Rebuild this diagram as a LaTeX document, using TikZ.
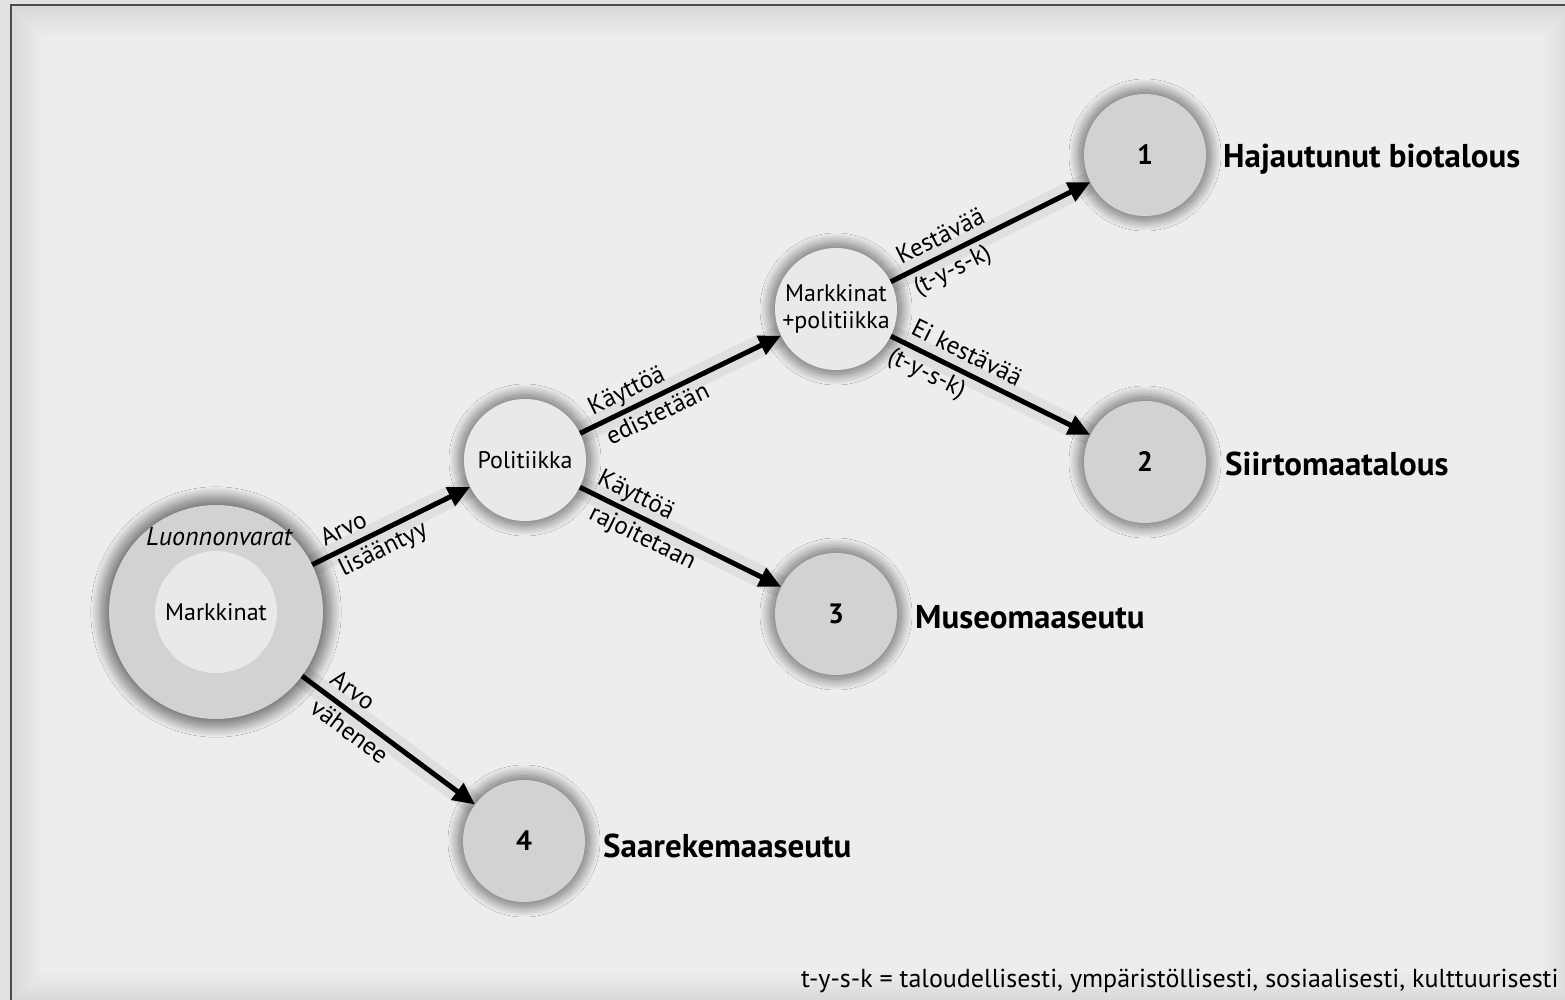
\documentclass[tikz,border=0pt]{standalone}
\usepackage{fontspec}
\setmainfont{PT Sans}
\usetikzlibrary{arrows.meta,shadows.blur}
\definecolor{cLight}{HTML}{E9E9E9}
\definecolor{cDark}{HTML}{D2D2D2}
\definecolor{cOut}{HTML}{E2E2E2}
\begin{document}
\begin{tikzpicture}[x=1pt,y=-1pt,
  glowshadow/.style={blur shadow={shadow xshift=0pt,shadow yshift=0pt,shadow blur radius=10pt,shadow blur steps=30,shadow scale=1.07,shadow opacity=55}},
  circbase/.style={circle, minimum size=122pt, inner sep=0pt, align=center, font=\fontsize{24}{27}\selectfont},
  lightc/.style={circbase, fill=cLight, glowshadow},
  darkc/.style={circbase, fill=cDark, glowshadow, font=\bfseries\fontsize{28}{30}\selectfont},
  lab/.style={anchor=base west, inner sep=1pt, font=\bfseries\fontsize{33}{35}\selectfont},
  arr/.style={line width=5pt, -{Triangle[length=22pt,width=20pt]},
    preaction={draw=black, draw opacity=0.06, line width=22pt, arrows=-}},
  el/.style={sloped, font=\fontsize{25}{27}\selectfont, inner sep=4pt, text height=18pt, text depth=4pt}
]
\useasboundingbox (0,0) rectangle (1565,1000);
\clip (0,0) rectangle (1565,1000);
% background
\fill[cOut] (0,0) rectangle (1565,1000);
\foreach \i in {0,...,6} {
  \pgfmathsetmacro\p{15-1.3*\i}
  \fill[black!\p] (11+5*\i,5+5*\i) rectangle (1574-5*\i,1004-5*\i);
}
\draw[line width=2pt, black!70] (11,1010) -- (11,5) -- (1580,5);

% nodes
\node[circbase, fill=cDark, glowshadow, minimum size=214pt] (nat) at (216,612) {};
\node[circbase, fill=cLight] (mark) at (216,612) {Markkinat};
\node[font=\itshape\fontsize{26}{28}\selectfont] (luo) at (219,537) {Luonnonvarat};
\node[lightc] (pol) at (525,460) {Politiikka};
\node[lightc] (mp) at (836,309) {Markkinat\\[0pt]+politiikka};
\node[darkc] (s1) at (1145,155) {1};
\node[darkc] (s2) at (1145,462) {2};
\node[darkc] (s3) at (836,614) {3};
\node[darkc] (s4) at (524,841) {4};

\node[lab] (l1) at (1222,168) {Hajautunut biotalous};
\node[lab] (l2) at (1224,475) {Siirtomaatalous};
\node[lab] (l3) at (914,628) {Museomaaseutu};
\node[lab] (l4) at (602,857) {Saarekemaaseutu};

\node[anchor=base east, font=\fontsize{26}{28}\selectfont] (foot) at (1562,987)
  {t-y-s-k = taloudellisesti, ympäristöllisesti, sosiaalisesti, kulttuurisesti};

% edges
\draw[arr] (nat) -- node[el,pos=0.25,above]{Arvo} node[el,pos=0.40,below]{lisääntyy} (pol);
\draw[arr] (nat) -- node[el,pos=0.23,above]{Arvo} node[el,pos=0.33,below]{vähenee} (s4);
\draw[arr] (pol) -- node[el,pos=0.27,above]{Käyttöä} node[el,pos=0.35,below]{edistetään} (mp);
\draw[arr] (pol) -- node[el,pos=0.24,above]{Käyttöä} node[el,pos=0.35,below]{rajoitetaan} (s3);
\draw[arr] (mp) -- node[el,pos=0.29,above]{Kestävää} node[el,pos=0.27,below]{(t-y-s-k)} (s1);
\draw[arr] (mp) -- node[el,pos=0.34,above]{Ei kestävää} node[el,pos=0.22,below]{(t-y-s-k)} (s2);
\end{tikzpicture}
\end{document}
